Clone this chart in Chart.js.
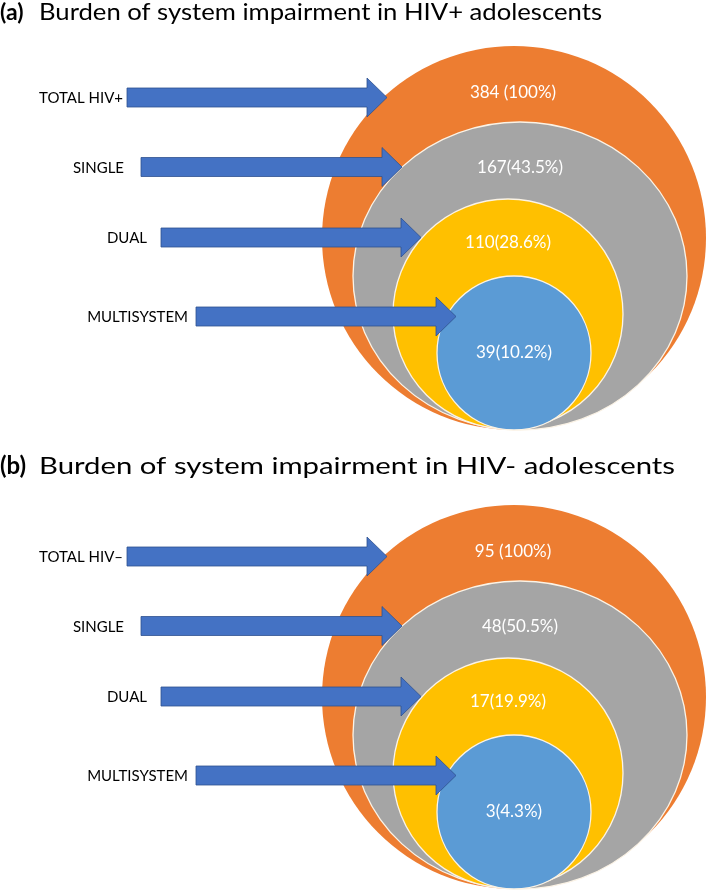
<!DOCTYPE html>
<html>
<head>
<meta charset="utf-8">
<script src="https://cdn.jsdelivr.net/npm/chart.js"></script>
<style>
  html, body { margin: 0; padding: 0; background: #fff; }
  #wrap { width: 709px; height: 890px; }
</style>
</head>
<body>
<div id="wrap"><canvas id="burdenChart" width="709" height="890"></canvas></div>
<script>
// Nested impairment circles for HIV+ (a) and HIV- (b) adolescents

const posLabels = ['TOTAL HIV+', 'SINGLE', 'DUAL', 'MULTISYSTEM'];
const negLabels = ['TOTAL HIV\u2013', 'SINGLE', 'DUAL', 'MULTISYSTEM'];
const posCounts = [384, 167, 110, 39];
const posPercents = ['100', '43.5', '28.6', '10.2'];
const negCounts = [95, 48, 17, 3];
const negPercents = ['100', '50.5', '19.9', '4.3'];
const panelTags = ['(a)', '(b)'];
const panelTitles = [
  'Burden of system impairment in HIV+ adolescents',
  'Burden of system impairment in HIV- adolescents'
];

// diagram layout, in chart units (x 0..709, y 0..890 top-down)
const ringShapes = [
  { cx: 514, cy: 238, rx: 192, ry: 192 },
  { cx: 520, cy: 276, rx: 167, ry: 154 },
  { cx: 508, cy: 314, rx: 115, ry: 115 },
  { cx: 514, cy: 353, rx: 77, ry: 77 }
];
const ringColors = ['#ED7D31', '#A5A5A5', '#FFC000', '#5B9BD5'];
const valueSpots = [
  { x: 513, y: 93 },
  { x: 520, y: 168 },
  { x: 508, y: 243 },
  { x: 514, y: 353 }
];
const arrowRows = [
  { y: 97.5, from: 127, tip: 387, textRight: 123 },
  { y: 167, from: 141, tip: 402, textRight: 124 },
  { y: 237.5, from: 161, tip: 421, textRight: 147 },
  { y: 316.5, from: 196, tip: 456, textRight: 188 }
];
const panelShift = [0, 459];
const titleLayout = [
  { y: 13, size: 23, start: 39, end: 602 },
  { y: 466, size: 24, start: 39, end: 675 }
];

const FONT = 'Lato, "Open Sans", sans-serif';

function valueText(counts, pcts, i) {
  return i === 0 ? counts[i] + ' (' + pcts[i] + '%)' : counts[i] + '(' + pcts[i] + '%)';
}

const panels = [
  { names: posLabels, counts: posCounts, pcts: posPercents },
  { names: negLabels, counts: negCounts, pcts: negPercents }
];

const diagramPlugin = {
  id: 'diagram',
  afterDatasetsDraw(chart) {
    const ctx = chart.ctx;
    const sx = chart.scales.x, sy = chart.scales.y;
    const px = v => sx.getPixelForValue(v);
    const py = v => sy.getPixelForValue(v);

    panels.forEach((panel, pi) => {
      const dy = panelShift[pi];

      // title
      const t = titleLayout[pi];
      ctx.save();
      ctx.fillStyle = '#000';
      ctx.textBaseline = 'middle';
      ctx.textAlign = 'left';
      ctx.font = 'bold ' + t.size + 'px ' + FONT;
      ctx.fillText(panelTags[pi], px(0), py(t.y));
      ctx.font = t.size + 'px ' + FONT;
      const w = ctx.measureText(panelTitles[pi]).width;
      const target = px(t.end) - px(t.start);
      ctx.translate(px(t.start), py(t.y));
      ctx.scale(target / w, 1);
      ctx.fillText(panelTitles[pi], 0, 0);
      ctx.restore();

      // nested ellipses
      ringShapes.forEach((s, i) => {
        const cx = px(s.cx), cy = py(s.cy + dy);
        const rx = Math.abs(px(s.cx + s.rx) - cx);
        const ry = Math.abs(py(s.cy + dy + s.ry) - cy);
        ctx.beginPath();
        ctx.ellipse(cx, cy, rx, ry, 0, 0, Math.PI * 2);
        ctx.fillStyle = ringColors[i];
        ctx.fill();
        if (i > 0) {
          ctx.strokeStyle = '#fbf3e6';
          ctx.lineWidth = 1.3;
          ctx.stroke();
        }
      });

      // value labels, placed from the dataset points
      const meta = chart.getDatasetMeta(pi);
      ctx.save();
      ctx.fillStyle = '#ffffff';
      ctx.font = '17px ' + FONT;
      ctx.textAlign = 'center';
      ctx.textBaseline = 'middle';
      meta.data.forEach((pt, i) => {
        ctx.fillText(valueText(panel.counts, panel.pcts, i), pt.x, pt.y);
      });
      ctx.restore();

      // arrows + category names
      arrowRows.forEach((a, i) => {
        const yc = py(a.y + dy);
        const x0 = px(a.from), x1 = px(a.tip);
        const xb = px(a.tip - 20);
        const sh = Math.abs(py(a.y + dy + 9.5) - yc);
        const hh = Math.abs(py(a.y + dy + 19.5) - yc);
        ctx.beginPath();
        ctx.moveTo(x0, yc - sh);
        ctx.lineTo(xb, yc - sh);
        ctx.lineTo(xb, yc - hh);
        ctx.lineTo(x1, yc);
        ctx.lineTo(xb, yc + hh);
        ctx.lineTo(xb, yc + sh);
        ctx.lineTo(x0, yc + sh);
        ctx.closePath();
        ctx.fillStyle = '#4472C4';
        ctx.fill();
        ctx.strokeStyle = '#2F528F';
        ctx.lineWidth = 0.8;
        ctx.stroke();

        ctx.save();
        ctx.fillStyle = '#000';
        ctx.font = '15px ' + FONT;
        ctx.textAlign = 'right';
        ctx.textBaseline = 'middle';
        ctx.fillText(panel.names[i], px(a.textRight), yc + 1);
        ctx.restore();
      });
    });
  }
};

new Chart(document.getElementById('burdenChart'), {
  type: 'scatter',
  data: {
    datasets: panels.map((panel, pi) => ({
      label: pi === 0 ? 'HIV+' : 'HIV-',
      data: panel.counts.map((c, i) => ({ x: valueSpots[i].x, y: valueSpots[i].y + panelShift[pi] })),
      pointRadius: 0,
      pointHoverRadius: 0
    }))
  },
  options: {
    responsive: false,
    devicePixelRatio: 1,
    animation: false,
    events: [],
    layout: { padding: 0 },
    plugins: {
      legend: { display: false },
      tooltip: { enabled: false },
      title: { display: false }
    },
    scales: {
      x: { type: 'linear', min: 0, max: 709, display: false },
      y: { type: 'linear', min: 0, max: 890, reverse: true, display: false }
    }
  },
  plugins: [diagramPlugin]
});
</script>
</body>
</html>
